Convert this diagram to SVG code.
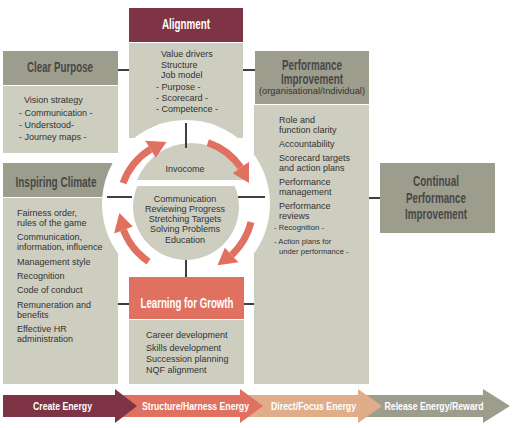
<svg xmlns="http://www.w3.org/2000/svg" width="514" height="428" viewBox="0 0 514 428">
<style>
.hdr{fill:#9d9d8e}
.body{fill:#cdcdc0}
.ht{font-family:"Liberation Sans",Arial,sans-serif;font-weight:bold;font-size:14px;fill:#474747;text-anchor:middle}
.hw{font-family:"Liberation Sans",Arial,sans-serif;font-weight:bold;font-size:14px;fill:#ffffff;text-anchor:middle}
.t{font-family:"Liberation Sans",Arial,sans-serif;font-size:9px;fill:#333333}
.s{font-family:"Liberation Sans",Arial,sans-serif;font-size:7.7px;fill:#333333}
.c{text-anchor:middle}
.conn line{stroke:#3f3f3f;stroke-width:2}
.ring{fill:none;stroke:#e07060;stroke-width:7}
.head{fill:#e07060}
.at{font-family:"Liberation Sans",Arial,sans-serif;font-weight:bold;font-size:10.5px;fill:#ffffff;text-anchor:middle}
</style>

<g id="alignment">
<rect x="129" y="8" width="114" height="34" fill="#7e3445"/>
<text class="hw" x="186" y="28.5" font-size="15" textLength="48" lengthAdjust="spacingAndGlyphs">Alignment</text>
<rect class="body" x="129" y="43" width="114" height="95"/>
<text class="t" x="161" y="57" font-size="8.5">Value drivers</text>
<text class="t" x="161" y="68" font-size="8.5">Structure</text>
<text class="t" x="161" y="78" font-size="8.5">Job model</text>
<text class="t" x="156" y="90" font-size="8.5">- Purpose -</text>
<text class="t" x="156" y="101" font-size="8.5">- Scorecard -</text>
<text class="t" x="156" y="112" font-size="8.5">- Competence -</text>
</g>

<g id="clear-purpose">
<rect class="hdr" x="3" y="51" width="115" height="34"/>
<text class="ht" x="60" y="71.5" textLength="66" lengthAdjust="spacingAndGlyphs">Clear Purpose</text>
<rect class="body" x="3" y="86" width="115" height="67"/>
<text class="t" x="24" y="102.5">Vision strategy</text>
<text class="t" x="19" y="116" font-size="8">- Communication -</text>
<text class="t" x="19" y="127.5" font-size="8">- Understood-</text>
<text class="t" x="19" y="139.5" font-size="8">- Journey maps -</text>
</g>

<g id="performance-improvement">
<rect class="hdr" x="255" y="51" width="114" height="53"/>
<text class="ht" x="312" y="69.5" font-size="12" textLength="60" lengthAdjust="spacingAndGlyphs">Performance</text>
<text class="ht" x="312" y="84" font-size="12" textLength="62" lengthAdjust="spacingAndGlyphs">Improvement</text>
<text class="t c" x="312" y="94" font-size="8" textLength="106" lengthAdjust="spacingAndGlyphs" fill="#444">(organisational/Individual)</text>
<rect class="body" x="254" y="105" width="115" height="279"/>
<text class="t" x="279" y="122.5">Role and</text>
<text class="t" x="279" y="132.5">function clarity</text>
<text class="t" x="279" y="147">Accountability</text>
<text class="t" x="279" y="160.5">Scorecard targets</text>
<text class="t" x="279" y="170.5">and action plans</text>
<text class="t" x="279" y="185">Performance</text>
<text class="t" x="279" y="195">management</text>
<text class="t" x="279" y="208.5">Performance</text>
<text class="t" x="279" y="218.5">reviews</text>
<text class="s" x="274" y="230">- Recognition -</text>
<text class="s" x="274" y="244">- Action plans for</text>
<text class="s" x="279" y="254">under performance -</text>
</g>

<g id="continual-performance-improvement">
<rect class="hdr" x="380" y="163" width="115" height="70"/>
<text class="ht" x="436" y="186" textLength="46" lengthAdjust="spacingAndGlyphs">Continual</text>
<text class="ht" x="436" y="202.5" textLength="60" lengthAdjust="spacingAndGlyphs">Performance</text>
<text class="ht" x="436" y="218.5" textLength="62" lengthAdjust="spacingAndGlyphs">Improvement</text>
</g>

<g id="inspiring-climate">
<rect class="hdr" x="3" y="163" width="115" height="34"/>
<text class="ht" x="56" y="187" textLength="81" lengthAdjust="spacingAndGlyphs">Inspiring Climate</text>
<rect class="body" x="3" y="198" width="115" height="186"/>
<text class="t" x="17" y="215.5">Fairness order,</text>
<text class="t" x="17" y="225.5">rules of the game</text>
<text class="t" x="17" y="239.5">Communication,</text>
<text class="t" x="17" y="249.5">information, influence</text>
<text class="t" x="17" y="264.5">Management style</text>
<text class="t" x="17" y="278.5">Recognition</text>
<text class="t" x="17" y="292.5">Code of conduct</text>
<text class="t" x="17" y="307.5">Remuneration and</text>
<text class="t" x="17" y="317.5">benefits</text>
<text class="t" x="17" y="331.5">Effective HR</text>
<text class="t" x="17" y="341.5">administration</text>
</g>

<g id="invocome">
<circle cx="186" cy="204" r="84" fill="#ffffff"/>
<path d="M137,180 A58.6,58.6 0 0 1 246,180 Z" fill="#cdcdc0"/>
<path d="M137.3,186 A53,53 0 1 0 234.7,186 Z" fill="#cdcdc0"/>
<text class="t c" x="185" y="171.5" font-size="10" fill="#222">Invocome</text>
<text class="t c" x="185" y="201.5" font-size="8.7">Communication</text>
<text class="t c" x="185" y="211.5" font-size="8.7">Reviewing Progress</text>
<text class="t c" x="185" y="221.5" font-size="8.7">Stretching Targets</text>
<text class="t c" x="185" y="232" font-size="8.7">Solving Problems</text>
<text class="t c" x="185" y="242.5" font-size="8.7">Education</text>
<path class="ring" d="M123.04,183.09 A67,67 0 0 1 150.5,149.18"/>
<polygon class="head" points="155.8,157.66 145.2,140.7 166.41,141.93"/>
<path class="ring" d="M207.81,142.65 A67,67 0 0 1 240.88,167.57"/>
<polygon class="head" points="232.69,173.3 249.08,161.83 248.96,183.09"/>
<path class="ring" d="M251.01,222.21 A67,67 0 0 1 231.69,255"/>
<polygon class="head" points="224.87,247.69 238.51,262.32 217.46,265.15"/>
<path class="ring" d="M148.53,261.54 A67,67 0 0 1 123.45,230.01"/>
<polygon class="head" points="132.79,226.43 114.11,233.6 119.37,213"/>
</g>

<g class="conn" id="connectors">
<line x1="118" y1="70" x2="129" y2="70"/>
<line x1="243" y1="70" x2="255" y2="70"/>
<line x1="186" y1="123" x2="186" y2="148"/>
<line x1="107" y1="197" x2="132" y2="197"/>
<line x1="238" y1="197" x2="265" y2="197"/>
<line x1="369" y1="198" x2="380" y2="198"/>
<line x1="186" y1="260" x2="186" y2="277"/>
<line x1="118" y1="304" x2="130" y2="304"/>
<line x1="244" y1="304" x2="254" y2="304"/>
</g>

<g id="learning-for-growth">
<rect x="129" y="277" width="115" height="42" fill="#e07060"/>
<text class="hw" x="187" y="308" textLength="93" lengthAdjust="spacingAndGlyphs">Learning for Growth</text>
<rect class="body" x="129" y="320" width="115" height="64"/>
<text class="t" x="146" y="337.5" font-size="8.7">Career development</text>
<text class="t" x="146" y="350.5" font-size="8.7">Skills development</text>
<text class="t" x="146" y="361.5" font-size="8.7">Succession planning</text>
<text class="t" x="146" y="372.5" font-size="8.7">NQF alignment</text>
</g>

<g id="energy-arrows">
<path d="M358,395 H483 V389 L510,406 L483,423 V417 H358 Z" fill="#9d9d8e"/>
<path d="M240,395 H358 V389 L382,406 L358,423 V417 H240 Z" fill="#e0ad89"/>
<path d="M115,395 H240 V389 L263,406 L240,423 V417 H115 Z" fill="#e07060"/>
<path d="M3,395 H115 V389 L137,406 L115,423 V417 H3 Z" fill="#7e3445"/>
<text class="at" x="62.5" y="410" textLength="59" lengthAdjust="spacingAndGlyphs">Create Energy</text>
<text class="at" x="195.5" y="410" textLength="107" lengthAdjust="spacingAndGlyphs">Structure/Harness Energy</text>
<text class="at" x="313.5" y="410" textLength="85" lengthAdjust="spacingAndGlyphs">Direct/Focus Energy</text>
<text class="at" x="434" y="410" textLength="99" lengthAdjust="spacingAndGlyphs">Release Energy/Reward</text>
</g>
</svg>
